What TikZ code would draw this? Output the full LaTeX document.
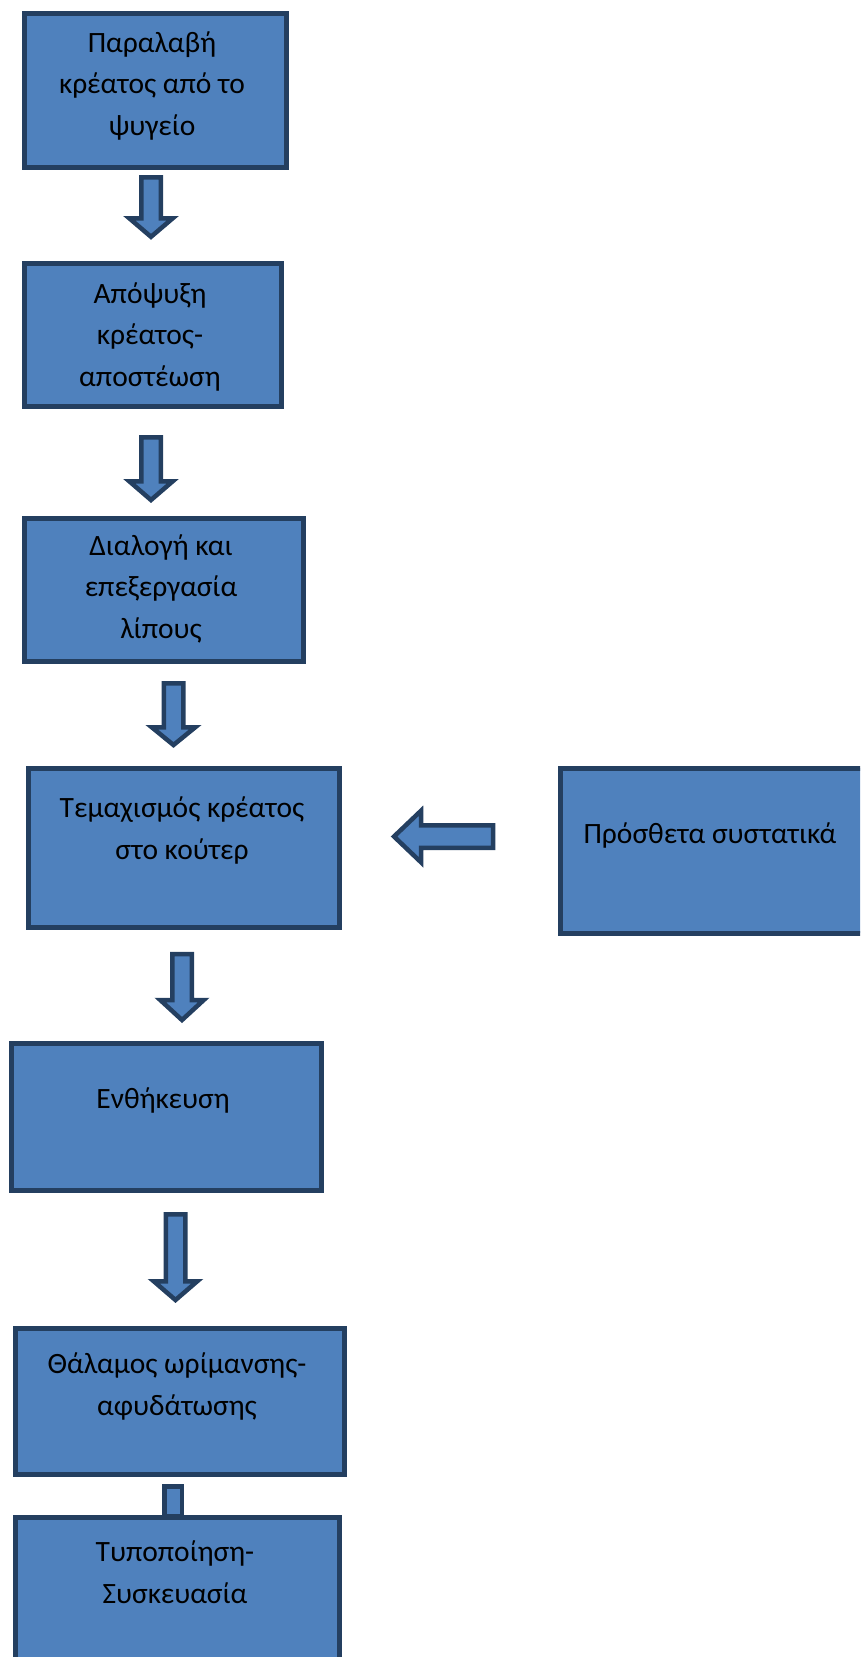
\documentclass[tikz,border=0pt]{standalone}
\usepackage{fontspec}
\setmainfont{Carlito}
\definecolor{fillblue}{HTML}{4F81BD}
\definecolor{edgeblue}{HTML}{243F60}
\newcommand\blockdown[4]{%
  \draw[blockarrow] (#1-9.75,#2) -- (#1+9.75,#2) -- (#1+9.75,#3) -- (#1+21.75,#3)
    -- (#1,#4) -- (#1-21.75,#3) -- (#1-9.75,#3) -- cycle;}
\begin{document}
\begin{tikzpicture}[x=1pt,y=-1pt,
  box/.style={draw=edgeblue, fill=fillblue, line width=5pt, anchor=north west, inner sep=0pt},
  blockarrow/.style={draw=edgeblue, fill=fillblue, line width=4.5pt, line join=miter},
  lbl/.style={font=\fontsize{29.5}{41.5}\selectfont, align=center, inner sep=0pt, anchor=base, text=black}]
\useasboundingbox (0,0) rectangle (860,1657);
\clip (0,0) rectangle (860,1657);
% boxes
\node[box, minimum width=262pt, minimum height=154pt] (b1) at (21.5,10.5) {};
\node[box, minimum width=257pt, minimum height=143pt] (b2) at (21.5,260.5) {};
\node[box, minimum width=279pt, minimum height=143pt] (b3) at (21.5,515.5) {};
\node[box, minimum width=311pt, minimum height=159pt] (b4) at (25.5,765.5) {};
\node[box, minimum width=320pt, minimum height=165pt] (b5) at (557.5,765.5) {};
\node[box, minimum width=310pt, minimum height=147pt] (b6) at (8.5,1040.5) {};
\node[box, minimum width=329pt, minimum height=146pt] (b7) at (12.5,1325.5) {};
% stub between b7 and b8
\draw[blockarrow] (164.25,1516) -- (164.25,1486.25) -- (181.75,1486.25) -- (181.75,1516) -- cycle;
\node[box, minimum width=324pt, minimum height=200pt] (b8) at (12.5,1514.5) {};
% labels (anchor = baseline of the last line)
\node[lbl] (t1) at (152,135) {Παραλαβή\\κρέατος από το\\ψυγείο};
\node[lbl] (t2) at (150,386) {Απόψυξη\\κρέατος-\\αποστέωση};
\node[lbl] (t3) at (161,638) {Διαλογή και\\επεξεργασία\\λίπους};
\node[lbl] (t4) at (182,859) {Τεμαχισμός κρέατος\\στο κούτερ};
\node[lbl] (t5) at (710,843) {Πρόσθετα συστατικά};
\node[lbl] (t6) at (163,1108) {Ενθήκευση};
\node[lbl] (t7) at (177,1415) {Θάλαμος ωρίμανσης-\\αφυδάτωσης};
\node[lbl] (t8) at (175,1603) {Τυποποίηση-\\Συσκευασία};
% block arrows
\blockdown{151}{177.25}{218.25}{236.8}
\blockdown{151}{437.25}{481.25}{500}
\blockdown{173.5}{683.25}{727.25}{745}
\blockdown{182}{954}{1000}{1020}
\blockdown{175.5}{1214.25}{1281.25}{1300}
\draw[blockarrow] (493,825.25) -- (421,825.25) -- (421,810.75) -- (394,836.5)
  -- (421,862.25) -- (421,847.75) -- (493,847.75) -- cycle;
\end{tikzpicture}
\end{document}
